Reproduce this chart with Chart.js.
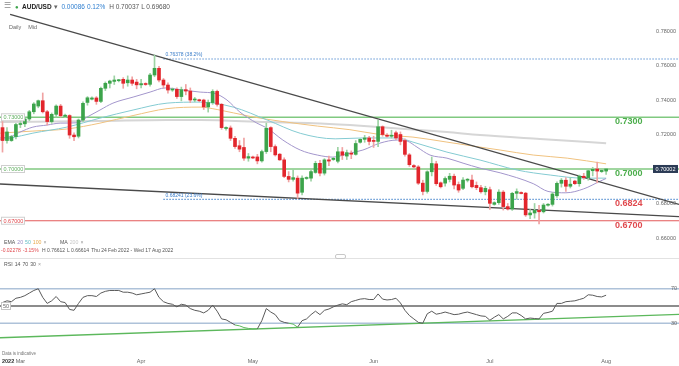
<!DOCTYPE html>
<html>
<head>
<meta charset="utf-8">
<title>AUD/USD Daily</title>
<script src="https://cdn.jsdelivr.net/npm/chart.js@4.4.1/dist/chart.umd.min.js"></script>
<style>
  body { margin: 0; background: #fff; }
  #wrap { position: relative; width: 679px; height: 366px; overflow: hidden; font-family: "Liberation Sans", Arial, sans-serif; }
  #wrap canvas { position: absolute; left: 0; }
  .txt { position: absolute; white-space: nowrap; line-height: 1; font-size: 5.5px; color: #555; }
  .txt span { margin-right: 2px; }
</style>
</head>
<body>
<div id="wrap">
  <canvas id="chart-main" width="679" height="258" style="top:0"></canvas>
  <canvas id="chart-rsi" width="679" height="108" style="top:258px"></canvas>

  <div class="txt" style="left:4px;top:2px;font-size:8px;color:#8a8a8a">&#9776;</div>
  <div class="txt" style="left:15px;top:3.5px;font-size:6px;color:#3ca44b">&#9679;</div>
  <div class="txt" style="left:22px;top:3.5px;font-size:6.5px">
    <span style="color:#222;font-weight:bold">AUD/USD</span><span style="color:#666">&#9662;</span>
    <span style="color:#2f7fd0">0.00086</span><span style="color:#2f7fd0">0.12%</span>
    <span>H 0.70037</span><span>L 0.69680</span>
  </div>
  <div class="txt" style="left:9px;top:24.5px;color:#666"><span style="margin-right:7px">Daily</span>Mid</div>

  <div class="txt" style="left:4px;top:239.5px;font-size:5.2px">
    <span>EMA</span><span style="color:#9a8cc4">20</span><span style="color:#5fbcc4">50</span><span style="color:#e8a94a">100</span><span style="color:#999;margin-right:12px">&#215;</span>
    <span>MA</span><span style="color:#c8c8c8">200</span><span style="color:#999">&#215;</span>
  </div>
  <div class="txt" style="left:1px;top:248px;font-size:5px">
    <span style="color:#e0484d">-0.02278</span><span style="color:#e0484d">-3.15%</span>
    <span>H 0.76612</span><span>L 0.66614</span><span>Thu 24 Feb 2022 - Wed 17 Aug 2022</span>
  </div>
  <div style="position:absolute;left:0;top:258px;width:679px;height:1px;background:#e2e2e2"></div>
  <div style="position:absolute;left:335px;top:254px;width:9px;height:3px;border:1px solid #c8c8c8;border-radius:2px;background:#fff"></div>
  <div class="txt" style="left:4px;top:261.5px;font-size:5.2px">
    <span>RSI</span><span>14</span><span>70</span><span>30</span><span style="color:#999">&#215;</span>
  </div>
</div>

<script>
// bar index 0 = Thu 24 Feb 2022, one bar per trading day incl. the short Sunday sessions
const open = [0.7240,0.7165,0.7165,0.7188,0.7258,0.7262,0.7290,0.7332,0.7365,0.7396,0.7332,0.7275,0.7317,0.7365,0.7305,0.7310,0.7197,0.7190,0.7284,0.7386,
  0.7405,0.7412,0.7392,0.7468,0.7497,0.7508,0.7512,0.7520,0.7500,0.7516,0.7504,0.7488,0.7492,0.7491,0.7545,0.7584,0.7516,0.7487,0.7458,0.7462,
  0.7420,0.7460,0.7452,0.7400,0.7400,0.7400,0.7360,0.7385,0.7450,0.7375,0.7235,0.7238,0.7178,0.7135,0.7125,0.7063,0.7068,0.7070,0.7047,0.7101,
  0.7240,0.7130,0.7086,0.7053,0.6957,0.6940,0.6947,0.6865,0.6945,0.6947,0.6980,0.7033,0.6976,0.7053,0.7055,0.7045,0.7100,0.7075,0.7092,0.7085,
  0.7155,0.7172,0.7180,0.7165,0.7160,0.7245,0.7195,0.7190,0.7210,0.7200,0.7165,0.7082,0.7020,0.7012,0.6918,0.6870,0.6984,0.7030,0.6920,0.6918,
  0.6940,0.6958,0.6910,0.6888,0.6935,0.6936,0.6905,0.6892,0.6868,0.6880,0.6795,0.6805,0.6866,0.6782,0.6768,0.6859,0.6862,0.6860,0.6734,0.6745,
  0.6760,0.6752,0.6790,0.6795,0.6845,0.6917,0.6935,0.6900,0.6930,0.6915,0.6958,0.6950,0.6990,0.7000,0.6985,0.6988];
const high = [0.7285,0.7240,0.7195,0.7265,0.7285,0.7295,0.7340,0.7385,0.7400,0.7441,0.7340,0.7325,0.7372,0.7375,0.7318,0.7315,0.7210,0.7290,0.7390,0.7420,
  0.7418,0.7420,0.7475,0.7505,0.7515,0.7540,0.7520,0.7530,0.7540,0.7535,0.7520,0.7520,0.7500,0.7555,0.7661,0.7595,0.7525,0.7500,0.7470,0.7470,
  0.7475,0.7490,0.7470,0.7415,0.7405,0.7405,0.7400,0.7460,0.7458,0.7380,0.7245,0.7250,0.7190,0.7165,0.7180,0.7090,0.7075,0.7085,0.7110,0.7266,
  0.7245,0.7140,0.7090,0.7065,0.6985,0.7000,0.6960,0.6960,0.6955,0.6995,0.7045,0.7050,0.7060,0.7075,0.7068,0.7125,0.7125,0.7110,0.7105,0.7165,
  0.7175,0.7195,0.7190,0.7190,0.7283,0.7250,0.7205,0.7225,0.7220,0.7215,0.7175,0.7090,0.7025,0.7020,0.6935,0.6990,0.7070,0.7045,0.6925,0.6955,
  0.6975,0.6970,0.6925,0.6950,0.6945,0.6965,0.6925,0.6905,0.6900,0.6895,0.6810,0.6880,0.6875,0.6800,0.6865,0.6885,0.6868,0.6865,0.6765,0.6800,
  0.6790,0.6800,0.6800,0.6865,0.6925,0.6945,0.6950,0.6950,0.6935,0.6965,0.6975,0.6995,0.7010,0.7040,0.6995,0.7004];
const low = [0.7098,0.7150,0.7160,0.7175,0.7240,0.7245,0.7280,0.7320,0.7355,0.7325,0.7255,0.7265,0.7300,0.7300,0.7298,0.7178,0.7165,0.7180,0.7275,0.7370,
  0.7400,0.7375,0.7385,0.7455,0.7470,0.7490,0.7505,0.7468,0.7480,0.7485,0.7465,0.7470,0.7485,0.7480,0.7535,0.7505,0.7470,0.7440,0.7450,0.7410,
  0.7395,0.7430,0.7385,0.7390,0.7390,0.7345,0.7330,0.7375,0.7365,0.7230,0.7225,0.7165,0.7120,0.7100,0.7050,0.7045,0.7060,0.7030,0.7040,0.7090,
  0.7100,0.7075,0.7050,0.6950,0.6925,0.6930,0.6829,0.6850,0.6940,0.6930,0.6975,0.6960,0.6965,0.7020,0.7050,0.7035,0.7055,0.7055,0.7060,0.7080,
  0.7150,0.7155,0.7140,0.7125,0.7130,0.7190,0.7185,0.7180,0.7170,0.7140,0.7075,0.7015,0.7005,0.6910,0.6850,0.6860,0.6960,0.6905,0.6890,0.6900,
  0.6925,0.6885,0.6865,0.6880,0.6925,0.6890,0.6880,0.6860,0.6850,0.6765,0.6790,0.6795,0.6762,0.6762,0.6760,0.6825,0.6855,0.6725,0.6712,0.6715,
  0.6681,0.6745,0.6785,0.6785,0.6835,0.6895,0.6870,0.6890,0.6910,0.6900,0.6940,0.6935,0.6960,0.6920,0.6980,0.6968];
const close = [0.7165,0.7215,0.7188,0.7258,0.7262,0.7290,0.7332,0.7377,0.7396,0.7332,0.7275,0.7317,0.7365,0.7309,0.7312,0.7197,0.7187,0.7284,0.7381,0.7413,
  0.7412,0.7392,0.7468,0.7497,0.7510,0.7516,0.7516,0.7497,0.7516,0.7497,0.7488,0.7495,0.7490,0.7545,0.7584,0.7516,0.7487,0.7458,0.7462,0.7420,
  0.7460,0.7452,0.7400,0.7406,0.7396,0.7360,0.7385,0.7450,0.7375,0.7240,0.7238,0.7178,0.7130,0.7115,0.7063,0.7072,0.7064,0.7047,0.7101,0.7236,
  0.7130,0.7082,0.7053,0.6957,0.6940,0.6950,0.6860,0.6947,0.6949,0.6985,0.7033,0.6976,0.7053,0.7046,0.7062,0.7100,0.7080,0.7095,0.7086,0.7148,
  0.7172,0.7180,0.7160,0.7160,0.7245,0.7200,0.7190,0.7196,0.7180,0.7160,0.7085,0.7025,0.7012,0.6918,0.6870,0.6984,0.7032,0.6915,0.6897,0.6945,
  0.6958,0.6907,0.6878,0.6936,0.6938,0.6897,0.6892,0.6868,0.6888,0.6801,0.6805,0.6866,0.6782,0.6768,0.6859,0.6869,0.6858,0.6734,0.6745,0.6760,
  0.6752,0.6791,0.6795,0.6855,0.6917,0.6935,0.6900,0.6912,0.6915,0.6958,0.6950,0.6990,0.6998,0.6988,0.6992,0.70002];

// moving averages as [bar index, price]
const ema20 = [[-0.5,0.7180],[1.7,0.7187],[3.9,0.7214],[6.8,0.7243],[10,0.7255],[12.9,0.7266],[16.7,0.7268],[18.9,0.7301],[21.8,0.7342],[24.7,0.7382],
  [29.2,0.7417],[33,0.7446],[36.4,0.7470],[40.4,0.7458],[44.2,0.7446],[47.5,0.7438],[50.2,0.7400],[53.1,0.7330],[56.9,0.7266],[59.2,0.7237],
  [62.7,0.7168],[66.6,0.7110],[70.4,0.7081],[73.9,0.7069],[77.7,0.7092],[80.6,0.7110],[84.4,0.7150],[88.3,0.7168],[90.5,0.7162],[92.7,0.7127],
  [95.6,0.7081],[99.4,0.7063],[103,0.7034],[106.8,0.7005],[111.3,0.6978],[118.7,0.6915],[122,0.6870],[126,0.6862],[130,0.6885],[133.7,0.6930],[135,0.6945]];
const ema50 = [[-0.5,0.7172],[1.7,0.7179],[6.8,0.7208],[14.4,0.7243],[21.8,0.7295],[29.2,0.7342],[36.8,0.7382],[44.2,0.7388],[51.6,0.7359],[59.2,0.7284],
  [66.6,0.7207],[74.4,0.7175],[80.6,0.7180],[88.3,0.7180],[91.8,0.7156],[99.4,0.7098],[106.8,0.7052],[115.1,0.6994],[122.5,0.6965],[129.9,0.6947],[135,0.6947]];
const ema100 = [[-0.5,0.7208],[6.8,0.7220],[14.4,0.7232],[21.8,0.7266],[29.2,0.7310],[36.8,0.7350],[44.2,0.7359],[48,0.7345],[55.4,0.7305],[62.7,0.7275],
  [70.4,0.7249],[77.7,0.7228],[84.4,0.7200],[91.8,0.7185],[99.4,0.7156],[106.8,0.7127],[111.3,0.7110],[118.7,0.7081],[126.3,0.7063],[135,0.7030]];
const ma200 = [[-0.5,0.7272],[21.8,0.7278],[36.8,0.7284],[44.2,0.7284],[59.2,0.7272],[69.5,0.7266],[77.7,0.7255],[84.4,0.7243],[99.4,0.7214],
  [106.8,0.7197],[120.2,0.7174],[135,0.7150]];

const upperTrend = [[1.7,0.7897],[151.3,0.6795]];
const lowerTrend = [[-0.56,0.6913],[151.3,0.6724]];
const greenLevels = [0.7300, 0.7000];
const redLevels = [0.6700];
const fibLevels = [0.76378, 0.68241];
const fibPct = ['38.2%', '23.6%'];
const fibStart = 36;
const keyLevels = [0.7300, 0.7000, 0.6824, 0.6700];
const keyColors = ['#4cae4c', '#4cae4c', '#e0484d', '#e0484d'];
const priceTicks = [0.66, 0.68, 0.70, 0.72, 0.74, 0.76, 0.78];

const rsi = [54,56,55,59,60,62,65,68,70,60,53,56,61,55,54,46,45,53,60,62,
  62,61,65,67,68,68,68,66,66,65,63,64,65,66,70,60,55,53,52,49,
  52,51,47,45,44,42,45,51,44,35,34,31,28,27,25,24,23.5,23.5,33,47,
  43,40,33,31,30,29,25.5,33,35,40,44,40,45,46.5,49,51,52.5,51.5,55,56.5,
  58,58.5,57.5,57.5,64,58,57,57.5,59,53.5,45,39,35,31,30,41,44,40.5,41.5,43,
  41.5,40,40.5,42,43,41.5,40,38.5,38,33.5,37,40,35,38,42,42,39,35,36,35.5,
  35,41.5,42.5,44,53,53,55,55.5,56,57.5,59,63,62.5,61,60.5,62.5];
const rsiLevels = [70, 50, 30];
const rsiTrend = [[-0.56,13.2],[151.3,40.4]];
const monthTicks = [4, 31, 56, 83, 109, 135];
const monthLabels = ['Mar', 'Apr', 'May', 'Jun', 'Jul', 'Aug'];

const X_MIN = -0.56, X_MAX = 151.3;
const FONT = '"Liberation Sans", Arial, sans-serif';
const GREEN_LINE = '#80c980', RED_LINE = '#e35a5a', FIB_BLUE = '#3a7dc9';

const pts = arr => arr.map(p => ({ x: p[0], y: p[1] }));
const hline = (v, from) => [{ x: from, y: v }, { x: X_MAX, y: v }];
function lineSet(data, color, width, extra) {
  return Object.assign({ type: 'line', data: data, borderColor: color, borderWidth: width,
    pointRadius: 0, tension: 0, fill: false }, extra || {});
}

const up = close.map((c, i) => c >= open[i]);

const mainLabels = {
  id: 'mainLabels',
  afterDatasetsDraw(chart) {
    const { ctx, scales: { x, y } } = chart;
    ctx.save();
    ctx.textBaseline = 'middle';

    // price axis, drawn over the plot on the right
    ctx.font = '5.5px ' + FONT;
    ctx.fillStyle = '#666';
    ctx.textAlign = 'right';
    priceTicks.forEach(v => ctx.fillText(v.toFixed(5), 676, y.getPixelForValue(v)));

    // small boxes on the left of the level lines
    ctx.textAlign = 'left';
    greenLevels.concat(redLevels).forEach((v, k) => {
      const py = y.getPixelForValue(v);
      ctx.fillStyle = '#fff';
      ctx.strokeStyle = '#cfcfcf';
      ctx.fillRect(1.5, py - 3.5, 23, 7);
      ctx.strokeRect(1.5, py - 3.5, 23, 7);
      ctx.fillStyle = k < greenLevels.length ? '#5fae5f' : '#e0484d';
      ctx.fillText(v.toFixed(5), 3.5, py + 0.3);
    });

    // fibonacci tags
    ctx.font = '5px ' + FONT;
    ctx.fillStyle = FIB_BLUE;
    fibLevels.forEach((v, k) => {
      ctx.fillText(v.toFixed(5) + ' (' + fibPct[k] + ')', x.getPixelForValue(fibStart) + 2, y.getPixelForValue(v) - 4);
    });

    // big level labels
    ctx.font = 'bold 9px ' + FONT;
    keyLevels.forEach((v, k) => {
      ctx.fillStyle = keyColors[k];
      ctx.fillText(v.toFixed(4), 615, y.getPixelForValue(v) + 4.5);
    });

    // last price tag
    const last = close[close.length - 1];
    const ly = y.getPixelForValue(last);
    ctx.fillStyle = '#2b3b55';
    ctx.fillRect(653, ly - 4, 25, 8);
    ctx.fillStyle = '#fff';
    ctx.font = '5.5px ' + FONT;
    ctx.textAlign = 'center';
    ctx.fillText(last.toFixed(5), 665.5, ly + 0.3);
    ctx.restore();
  }
};

const rsiLabels = {
  id: 'rsiLabels',
  afterDatasetsDraw(chart) {
    const { ctx, scales: { x, y } } = chart;
    ctx.save();
    ctx.textBaseline = 'middle';
    ctx.font = '5.5px ' + FONT;
    ctx.fillStyle = '#666';
    ctx.textAlign = 'right';
    [70, 30].forEach(v => ctx.fillText(String(v), 677, y.getPixelForValue(v)));

    const y50 = y.getPixelForValue(50);
    ctx.fillStyle = '#fff';
    ctx.strokeStyle = '#c4c4c4';
    ctx.fillRect(1.5, y50 - 3.5, 9, 7);
    ctx.strokeRect(1.5, y50 - 3.5, 9, 7);
    ctx.fillStyle = '#666';
    ctx.textAlign = 'center';
    ctx.fillText('50', 6, y50 + 0.3);

    monthTicks.forEach((t, k) => ctx.fillText(monthLabels[k], x.getPixelForValue(t), 103));
    ctx.textAlign = 'left';
    ctx.font = 'bold 5.5px ' + FONT;
    ctx.fillStyle = '#333';
    ctx.fillText('2022', 2, 103);
    ctx.font = '4.5px ' + FONT;
    ctx.fillStyle = '#777';
    ctx.fillText('Data is indicative', 2, 96);
    ctx.restore();
  }
};

new Chart(document.getElementById('chart-main'), {
  type: 'bar',
  data: {
    datasets: [
      {
        type: 'bar', data: close.map((c, i) => ({ x: i, y: [open[i], c] })),
        backgroundColor: up.map(u => u ? '#3ca44b' : '#e2262c'),
        barThickness: 3, grouped: false, minBarLength: 1, borderSkipped: false
      },
      {
        type: 'bar', data: close.map((c, i) => ({ x: i, y: [low[i], high[i]] })),
        backgroundColor: up.map(u => u ? '#9dd3a4' : '#f0a2a2'),
        barThickness: 1, grouped: false, borderSkipped: false
      },
      lineSet(pts(upperTrend), '#4a4a4a', 1.3),
      lineSet(pts(lowerTrend), '#4a4a4a', 1.3),
      lineSet(pts(ema20), '#a396cc', 1, { tension: 0.4, cubicInterpolationMode: 'monotone' }),
      lineSet(pts(ema50), '#84cbd2', 1, { tension: 0.4, cubicInterpolationMode: 'monotone' }),
      lineSet(pts(ema100), '#f0c27f', 1, { tension: 0.4, cubicInterpolationMode: 'monotone' }),
      lineSet(pts(ma200), '#d6d6d6', 2, { tension: 0.4, cubicInterpolationMode: 'monotone' }),
      lineSet(hline(fibLevels[0], fibStart), FIB_BLUE, 1.2, { borderDash: [1.2, 1.8] }),
      lineSet(hline(fibLevels[1], fibStart), FIB_BLUE, 1.2, { borderDash: [1.2, 1.8] }),
      lineSet(hline(greenLevels[0], X_MIN), GREEN_LINE, 1.4),
      lineSet(hline(greenLevels[1], X_MIN), GREEN_LINE, 1.4),
      lineSet(hline(redLevels[0], X_MIN), RED_LINE, 1.1)
    ]
  },
  options: {
    responsive: false,
    animation: false,
    events: [],
    layout: { padding: 0 },
    plugins: { legend: { display: false }, tooltip: { enabled: false } },
    scales: {
      x: { type: 'linear', display: false, min: X_MIN, max: X_MAX, offset: false },
      y: { type: 'linear', display: false, min: 0.6484, max: 0.7980 }
    }
  },
  plugins: [mainLabels]
});

new Chart(document.getElementById('chart-rsi'), {
  type: 'line',
  data: {
    datasets: [
      lineSet(rsi.map((v, i) => ({ x: i, y: v })), '#5a5a5a', 1, {
        segment: { borderColor: c => (c.p0.parsed.y < 30.5 && c.p1.parsed.y < 30.5) ? '#5cb85c' : undefined }
      }),
      lineSet(pts(rsiTrend), '#5cb85c', 1.3),
      lineSet(hline(rsiLevels[0], X_MIN), '#aec2d9', 1.3),
      lineSet(hline(rsiLevels[1], X_MIN), '#8c8c8c', 2),
      lineSet(hline(rsiLevels[2], X_MIN), '#aec2d9', 1.3)
    ]
  },
  options: {
    responsive: false,
    animation: false,
    events: [],
    layout: { padding: 0 },
    plugins: { legend: { display: false }, tooltip: { enabled: false } },
    scales: {
      x: { type: 'linear', display: false, min: X_MIN, max: X_MAX },
      y: { type: 'linear', display: false, min: -19.57, max: 105.65 }
    }
  },
  plugins: [rsiLabels]
});
</script>
</body>
</html>
